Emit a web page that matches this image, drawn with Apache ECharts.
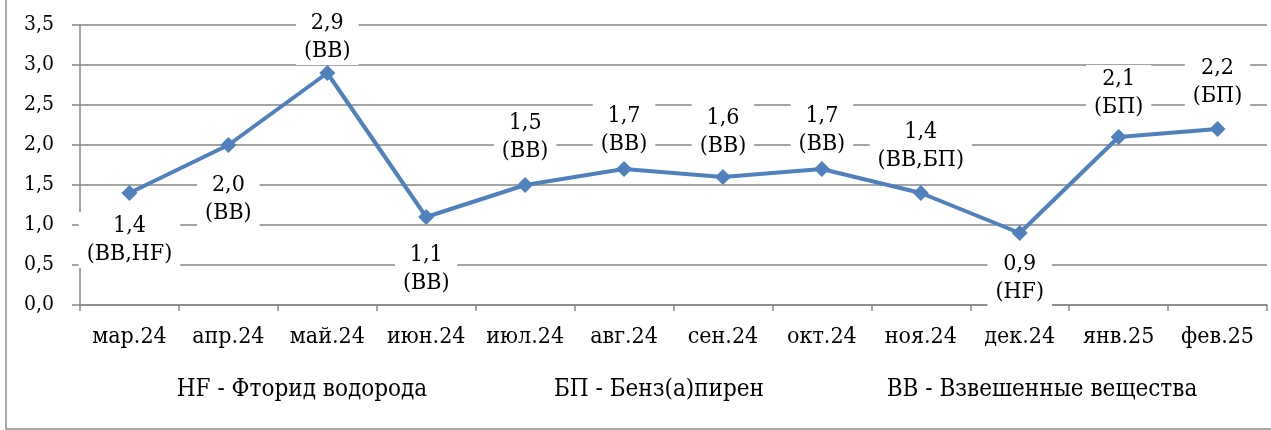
<!DOCTYPE html>
<html>
<head>
<meta charset="utf-8">
<script src="https://cdn.jsdelivr.net/npm/echarts@6/dist/echarts.min.js"></script>
<style>
  html, body { margin: 0; padding: 0; background: #fff; }
  #chart { width: 1271px; height: 430px; }
</style>
</head>
<body>
<div id="chart"></div>
<script>
const categories = ["мар.24", "апр.24", "май.24", "июн.24", "июл.24", "авг.24", "сен.24", "окт.24", "ноя.24", "дек.24", "янв.25", "фев.25"];
const values = [1.4, 2.0, 2.9, 1.1, 1.5, 1.7, 1.6, 1.7, 1.4, 0.9, 2.1, 2.2];
const substances = ["ВВ,HF", "ВВ", "ВВ", "ВВ", "ВВ", "ВВ", "ВВ", "ВВ", "ВВ,БП", "HF", "БП", "БП"];
const legendNotes = ["HF - Фторид водорода", "БП - Бенз(а)пирен", "ВВ - Взвешенные вещества"];

// label placement, roughly as it was dragged in the original
const labelSides = ["bottom", "bottom", "top", "bottom", "top", "top", "top", "top", "top", "bottom", "top", "top"];
const labelGaps = [11, 18, 0, 16, 12, 3, 9, 3, 11, 9, 8, 11];
const notesX = [302, 659, 1042];

const fmt = (v) => v.toFixed(1).replace(".", ",");
const font = "DejaVu Serif Condensed, DejaVu Serif";
const gridColor = "#868686";

const chart = echarts.init(document.getElementById("chart"), null, { renderer: "canvas" });

chart.setOption({
  animation: false,
  backgroundColor: "#fff",
  textStyle: { fontFamily: font },
  grid: { left: 80, right: 4, top: 25, bottom: 125 },
  xAxis: {
    type: "category",
    data: categories,
    boundaryGap: true,
    axisLine: { lineStyle: { color: gridColor, width: 1.5 } },
    axisTick: { show: true, length: 6, lineStyle: { color: gridColor, width: 1.5 } },
    axisLabel: { color: "#000", fontFamily: font, fontSize: 23, margin: 21, interval: 0 }
  },
  yAxis: {
    type: "value",
    min: 0,
    max: 3.5,
    interval: 0.5,
    axisLine: { show: true, lineStyle: { color: gridColor, width: 1.5 } },
    axisTick: { show: true, length: 8, lineStyle: { color: gridColor, width: 1.5 } },
    axisLabel: { color: "#000", fontFamily: font, fontSize: 21, margin: 26, formatter: (v) => fmt(v) },
    splitLine: { lineStyle: { color: gridColor, width: 1.5 } }
  },
  series: [{
    type: "line",
    data: values.map((v, i) => ({
      value: v,
      label: { position: labelSides[i], distance: labelGaps[i] }
    })),
    symbol: "diamond",
    symbolSize: 16,
    lineStyle: { color: "#4F81BD", width: 4 },
    itemStyle: { color: "#4F81BD" },
    label: {
      show: true,
      color: "#000",
      fontFamily: font,
      fontSize: 23,
      lineHeight: 28,
      align: "center",
      backgroundColor: "#fff",
      padding: [0, 8],
      formatter: (p) => fmt(values[p.dataIndex]) + "\n(" + substances[p.dataIndex] + ")"
    }
  }],
  graphic: [
    {
      type: "rect",
      silent: true,
      z: -1,
      shape: { x: 6, y: -4, width: 1300, height: 433 },
      style: { fill: null, stroke: "#8c8c8c", lineWidth: 1.5 }
    }
  ].concat(legendNotes.map((t, i) => ({
    type: "text",
    silent: true,
    x: notesX[i],
    y: 390,
    style: {
      text: t,
      fill: "#000",
      fontFamily: font,
      fontSize: 24,
      textAlign: "center",
      textVerticalAlign: "middle"
    }
  })))
});
</script>
</body>
</html>
